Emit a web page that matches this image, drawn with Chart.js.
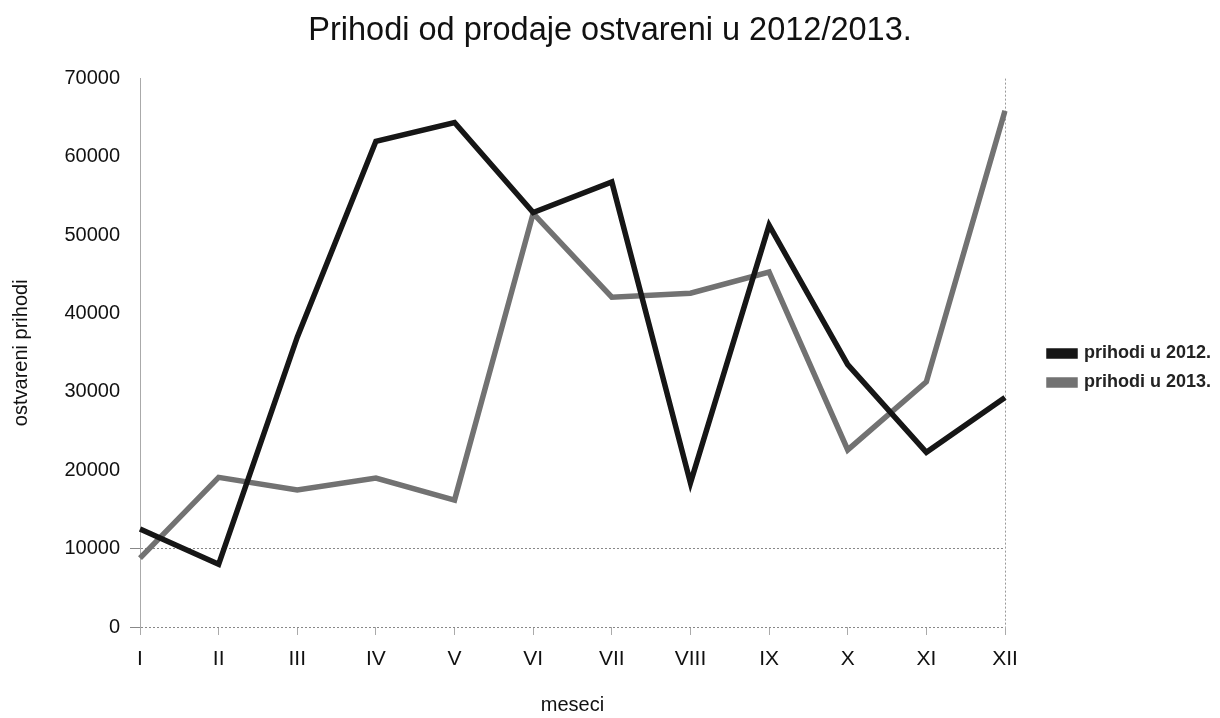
<!DOCTYPE html>
<html>
<head>
<meta charset="utf-8">
<script src="https://cdn.jsdelivr.net/npm/chart.js@4/dist/chart.umd.min.js"></script>
<style>
html,body{margin:0;padding:0;background:#fff;}
#wrap{width:1220px;height:718px;}
</style>
</head>
<body>
<div id="wrap"><canvas id="c" width="1220" height="718"></canvas></div>
<script>
const months = ['I','II','III','IV','V','VI','VII','VIII','IX','X','XI','XII'];
const prihodi2012 = [12500, 8000, 37000, 62000, 64400, 52900, 56800, 18400, 51300, 33500, 22300, 29300];
const prihodi2013 = [8800, 19100, 17500, 19000, 16200, 52800, 42100, 42600, 45300, 22600, 31300, 65900];
const yTicks = [0, 10000, 20000, 30000, 40000, 50000, 60000, 70000];
const titleText = 'Prihodi od prodaje ostvareni u 2012/2013.';
const xTitle = 'meseci';
const yTitle = 'ostvareni prihodi';
const seriesNames = ['prihodi u 2012.', 'prihodi u 2013.'];

const FONT = "'Liberation Sans', Arial, sans-serif";
Chart.defaults.font.family = FONT;
Chart.defaults.color = '#111';

const legendPlacer = {
  id: 'legendPlacer',
  beforeLayout(chart) {
    const lg = chart.legend;
    if (lg && !lg._wrappedFit) {
      const f = lg.fit.bind(lg);
      lg.fit = function () { f(); this.width = 215; };
      lg._wrappedFit = true;
    }
  },
  afterLayout(chart) {
    const lg = chart.legend;
    if (lg) { lg.left += 33; lg.right += 33; lg.top += 9; lg.bottom += 9; }
  }
};

new Chart(document.getElementById('c'), {
  type: 'line',
  data: {
    labels: months,
    datasets: [
      {label: seriesNames[0], data: prihodi2012, borderColor: '#161616', backgroundColor: '#161616', borderWidth: 5.5, pointRadius: 0, tension: 0, borderJoinStyle: 'miter'},
      {label: seriesNames[1], data: prihodi2013, borderColor: '#727272', backgroundColor: '#727272', borderWidth: 5.5, pointRadius: 0, tension: 0, borderJoinStyle: 'miter'}
    ]
  },
  plugins: [legendPlacer],
  options: {
    responsive: false,
    animation: false,
    layout: {padding: {left: 0, right: 0, top: 0, bottom: 0}},
    plugins: {
      title: {display: true, text: titleText, font: {size: 32.5, weight: 'normal'}, color: '#111', padding: {top: 12, bottom: 27.6}},
      legend: {
        position: 'right',
        labels: {boxWidth: 26, boxHeight: 5, padding: 11, font: {size: 18, weight: 'bold'}, color: '#222'}
      },
      tooltip: {enabled: false}
    },
    scales: {
      x: {
        offset: false,
        afterFit: (s) => { s.height = 91; },
        grid: {
          color: (ctx) => (ctx.index === 0 || ctx.index === months.length - 1) ? '#999' : 'rgba(0,0,0,0)',
          tickColor: '#aaa',
          tickLength: 8,
          lineWidth: 1
        },
        border: {display: false, dash: [2, 2]},
        ticks: {font: {size: 21}, color: '#111', padding: 12, maxRotation: 0, autoSkip: false},
        title: {display: true, text: xTitle, font: {size: 20}, color: '#111', padding: {top: 0, bottom: 1}}
      },
      y: {
        min: 0, max: 70000,
        afterBuildTicks: (axis) => { axis.ticks = yTicks.map(v => ({value: v})); },
        afterFit: (s) => { s.width = 140; },
        grid: {
          color: (ctx) => (ctx.tick && (ctx.tick.value === 0 || ctx.tick.value === 10000)) ? '#888' : 'rgba(0,0,0,0)',
          tickColor: (ctx) => (ctx.tick && (ctx.tick.value === 0 || ctx.tick.value === 10000)) ? '#888' : 'rgba(0,0,0,0)',
          tickLength: 10,
          lineWidth: 1
        },
        border: {display: true, color: '#aaa', dash: [2, 2]},
        ticks: {font: {size: 20}, color: '#111', padding: 10, callback: (v) => String(v)},
        title: {display: true, text: yTitle, font: {size: 20}, color: '#111', padding: {top: 9, bottom: 0}}
      }
    }
  }
});
</script>
</body>
</html>
